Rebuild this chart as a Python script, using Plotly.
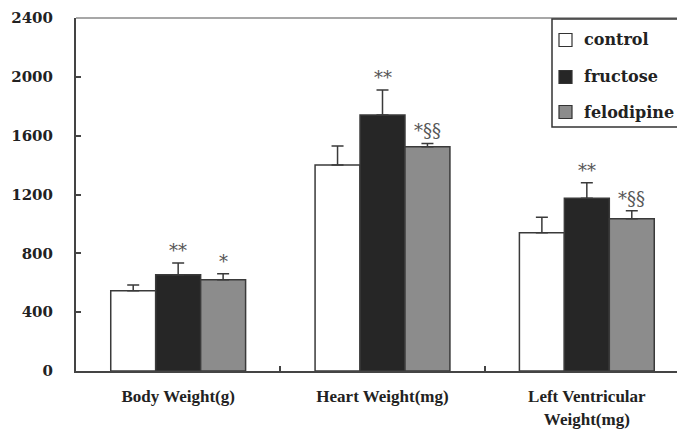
import plotly.graph_objects as go

categories = ["Body Weight(g)", "Heart Weight(mg)", "Left Ventricular<br>Weight(mg)"]
groups = ["control", "fructose", "felodipine"]
control_vals = [545, 1400, 940]
control_err = [40, 130, 105]
fructose_vals = [655, 1740, 1175]
fructose_err = [80, 170, 105]
felodipine_vals = [620, 1525, 1035]
felodipine_err = [42, 22, 55]
fructose_marks = ["**", "**", "**"]
felodipine_marks = ["*", "*§§", "*§§"]
y_ticks = [0, 400, 800, 1200, 1600, 2000, 2400]

colors = ["#ffffff", "#262626", "#8c8c8c"]
series = [(control_vals, control_err), (fructose_vals, fructose_err), (felodipine_vals, felodipine_err)]

W, H = 685, 436
ML, MR, MT, MB = 68, 4, 10, 73
PW, PH = W - ML - MR, H - MT - MB


def px(xp):
    return (xp - ML) / PW


def py(yp):
    return (H - MB - yp) / PH


fig = go.Figure()
for name, (vals, errs), col in zip(groups, series, colors):
    fig.add_trace(go.Bar(
        name=name, x=categories, y=vals, showlegend=False,
        marker=dict(color=col, line=dict(color="#3a3a3a", width=1.5)),
        error_y=dict(type="data", array=errs, arrayminus=[0] * len(errs),
                     symmetric=False, color="#3a3a3a", thickness=1.5, width=6),
    ))

bargap = 0.34
bw = (1 - bargap) / 3
annos = []
for i in range(len(categories)):
    for off, vals, errs, marks in [(0, fructose_vals, fructose_err, fructose_marks),
                                   (1, felodipine_vals, felodipine_err, felodipine_marks)]:
        annos.append(dict(x=i + off * bw, y=vals[i] + errs[i], xref="x", yref="y",
                          text=marks[i], showarrow=False, yanchor="bottom", yshift=0,
                          font=dict(family="DejaVu Serif", size=18, color="#555")))

shapes = [
    dict(type="line", xref="paper", yref="paper", x0=0, x1=1, y0=1, y1=1,
         line=dict(color="#8a8a8a", width=1.5)),
    dict(type="line", xref="paper", yref="paper", x0=1, x1=1, y0=0, y1=1,
         line=dict(color="#8a8a8a", width=1.5)),
    # legend box
    dict(type="rect", xref="paper", yref="paper", x0=px(544), x1=px(680), y0=py(119), y1=py(11),
         line=dict(color="#333", width=1.5), fillcolor="white", layer="above"),
]
legend_y = [32, 69, 104]
for name, col, ly in zip(groups, colors, legend_y):
    shapes.append(dict(type="rect", xref="paper", yref="paper",
                       x0=px(551), x1=px(564), y0=py(ly + 6.5), y1=py(ly - 6.5),
                       line=dict(color="#333", width=1.2), fillcolor=col, layer="above"))
    annos.append(dict(x=px(574), y=py(ly), xref="paper", yref="paper", text="<b>" + name + "</b>",
                      showarrow=False, xanchor="left", yanchor="middle",
                      font=dict(family="DejaVu Serif", size=16, color="#222")))

fig.update_layout(
    width=W, height=H,
    margin=dict(l=ML, r=MR, t=MT, b=MB, autoexpand=False),
    paper_bgcolor="white", plot_bgcolor="white",
    barmode="group", bargap=bargap, bargroupgap=0,
    showlegend=False,
    annotations=annos,
    shapes=shapes,
)
fig.update_xaxes(
    automargin=False,
    showline=True, linecolor="#444", linewidth=2,
    ticks="inside", tickson="boundaries", ticklen=5, tickcolor="#444", tickwidth=1.5,
    showgrid=False, ticklabelstandoff=9,
    tickfont=dict(family="Liberation Serif", size=17, color="#222", weight="bold"),
)
fig.update_yaxes(
    automargin=False,
    range=[0, 2400], tickvals=y_ticks, ticktext=[str(v) for v in y_ticks],
    showline=True, linecolor="#444", linewidth=2,
    ticks="inside", ticklen=5, tickcolor="#444", tickwidth=1.5,
    showgrid=False, zeroline=False, ticklabelstandoff=18,
    tickfont=dict(family="DejaVu Serif", size=15, color="#222", weight="bold"),
)

fig.write_html("out.html")
